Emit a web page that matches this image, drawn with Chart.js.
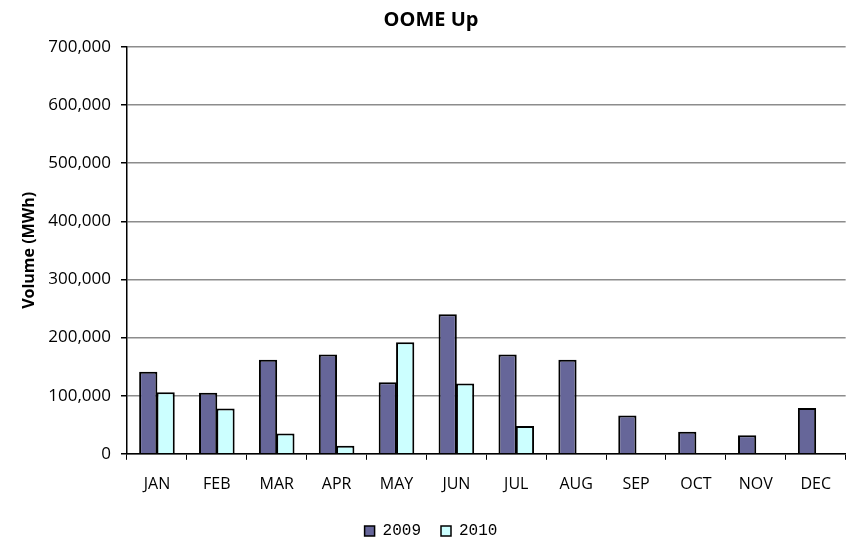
<!DOCTYPE html>
<html>
<head>
<meta charset="utf-8">
<script src="https://cdn.jsdelivr.net/npm/chart.js@4"></script>
<style>
  html, body { margin: 0; padding: 0; background: #fff; }
  #wrap { width: 846px; height: 537px; }
</style>
</head>
<body>
<div id="wrap"><canvas id="oomeChart"></canvas></div>
<script>
// Monthly OOME Up volumes (MWh)
const months = ['JAN', 'FEB', 'MAR', 'APR', 'MAY', 'JUN', 'JUL', 'AUG', 'SEP', 'OCT', 'NOV', 'DEC'];
const vol2009 = [141000, 105000, 162000, 171000, 123000, 240000, 171000, 162000, 66000, 38000, 32000, 79000];
const vol2010 = [106000, 78000, 35000, 14000, 192000, 121000, 48000, null, null, null, null, null];
const yMax = 700000;
const yStep = 100000;

const font = 'Open Sans';

new Chart(document.getElementById('oomeChart').getContext('2d'), {
    type: 'bar',
    data: {
        labels: months,
        datasets: [
            {
                label: '2009',
                data: vol2009,
                backgroundColor: '#666699',
                borderColor: '#000000',
                borderWidth: 2,
                borderSkipped: 'bottom'
            },
            {
                label: '2010',
                data: vol2010,
                backgroundColor: '#CCFFFF',
                borderColor: '#000000',
                borderWidth: 2,
                borderSkipped: 'bottom'
            }
        ]
    },
    options: {
        responsive: true,
        maintainAspectRatio: false,
        animation: false,
        datasets: { bar: { categoryPercentage: 0.58, barPercentage: 1.05 } },
        // plot runs past the right edge in the original (it was cropped)
        layout: { padding: { left: 8, right: -8, top: 4, bottom: -12 } },
        plugins: {
            title: {
                display: true,
                text: 'OOME Up',
                color: '#000',
                font: { family: font, size: 20, weight: 'bold' },
                padding: { top: 4, bottom: 15 }
            },
            legend: {
                position: 'bottom',
                labels: {
                    color: '#000',
                    font: { family: 'Liberation Mono', size: 16 },
                    boxWidth: 10,
                    boxHeight: 10,
                    padding: 20,
                    generateLabels: chart => chart.data.datasets.map((ds, i) => ({
                        text: ds.label,
                        fillStyle: ds.backgroundColor,
                        strokeStyle: '#000',
                        lineWidth: 1.5,
                        datasetIndex: i
                    }))
                }
            },
            tooltip: { enabled: false }
        },
        scales: {
            x: {
                grid: {
                    drawOnChartArea: false,
                    drawTicks: true,
                    tickLength: 6,
                    tickColor: '#000',
                    offset: true
                },
                border: { color: '#000', width: 1.5 },
                ticks: { color: '#000', font: { family: font, size: 16 }, padding: 15 },
                afterFit: scale => { scale.height -= 6; }
            },
            y: {
                min: 0,
                max: yMax,
                ticks: {
                    stepSize: yStep,
                    color: '#000',
                    font: { family: font, size: 17 },
                    padding: 10,
                    callback: v => v.toLocaleString('en-US')
                },
                grid: { color: '#8c8c8c', lineWidth: 1.5, tickLength: 6, tickColor: '#000' },
                border: { color: '#000', width: 1.5 },
                title: {
                    display: true,
                    text: 'Volume (MWh)',
                    color: '#000',
                    font: { family: font, size: 16, weight: 'bold' },
                    padding: { top: 12, bottom: 4 }
                },
                afterFit: scale => { scale.width = 119; }
            }
        }
    }
});
</script>
</body>
</html>
